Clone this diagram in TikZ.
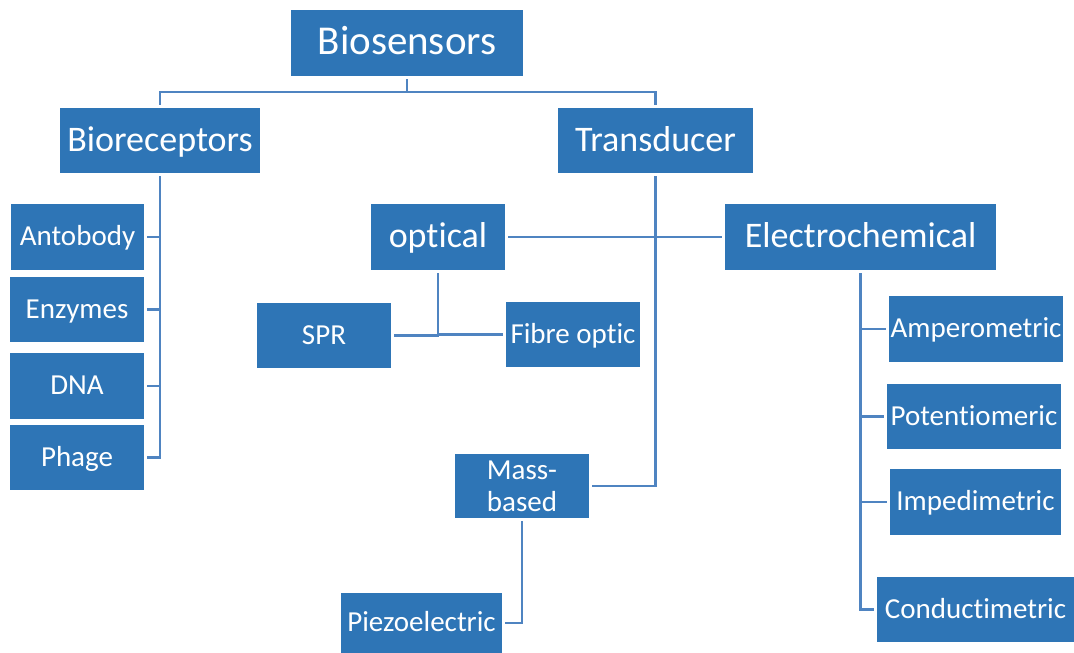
\documentclass[tikz,border=0pt]{standalone}
\usepackage{fontspec}
\setmainfont{Carlito}[RawFeature={-liga;-clig;-calt;-dlig}]
\usepackage{xcolor}
\definecolor{boxblue}{RGB}{46,117,182}
\definecolor{linkblue}{RGB}{79,132,193}
\usepackage{tikz}

\tikzset{
  box/.style={fill=boxblue, text=white, inner sep=0pt},
  bigbox/.style={box, font=\fontsize{41}{49}\selectfont, text height=30pt, text depth=7.4pt},
  midbox/.style={box, font=\fontsize{36}{43}\selectfont, text height=27pt, text depth=6pt},
  smallbox/.style={box, font=\fontsize{29}{32}\selectfont, text height=22pt, text depth=5pt},
  link/.style={draw=linkblue, line width=2.3pt, shorten <=3pt, shorten >=3pt},
}

\begin{document}
\begin{tikzpicture}[x=1pt, y=-1pt]
  \useasboundingbox (0,0) rectangle (1074,653);

  % Top level
  \node[bigbox, minimum width=232pt, minimum height=66pt] (bio) at (407,43) {Biosensors};
  \node[midbox, minimum width=200pt, minimum height=65pt] (brec) at (160,140.5) {Bioreceptors};
  \node[midbox, minimum width=195pt, minimum height=65pt] (trans) at (655.5,140.5) {Transducer};

  % Bioreceptors column
  \node[smallbox, minimum width=133pt, minimum height=66pt] (anto) at (77.5,237) {Antobody};
  \node[smallbox, minimum width=134pt, minimum height=65pt] (enz) at (77,309.5) {Enzymes};
  \node[smallbox, minimum width=134pt, minimum height=66pt] (dna) at (77,386) {DNA};
  \node[smallbox, minimum width=134pt, minimum height=65pt] (phage) at (77,457.5) {Phage};

  % Transducer branches
  \node[midbox, minimum width=134pt, minimum height=66pt] (opt) at (438,237) {optical};
  \node[midbox, minimum width=271pt, minimum height=66pt] (elec) at (860.5,237) {Electrochemical};
  \node[smallbox, minimum width=134pt, minimum height=65pt] (spr) at (324,335.5) {SPR};
  \node[smallbox, minimum width=134pt, minimum height=65pt] (fibre) at (573,334.5) {Fibre optic};
  \node[smallbox, minimum width=134pt, minimum height=64pt, align=center,
        text height={}, text depth={}] (mass) at (522,486) {Mass-\\based};
  \node[smallbox, minimum width=161pt, minimum height=60pt] (piezo) at (421.5,623) {Piezoelectric};

  % Electrochemical column
  \node[smallbox, minimum width=174pt, minimum height=66pt] (amp) at (976,329) {Amperometric};
  \node[smallbox, minimum width=174pt, minimum height=65pt] (pot) at (974,416.5) {Potentiomeric};
  \node[smallbox, minimum width=171pt, minimum height=66pt] (imp) at (975.5,502) {Impedimetric};
  \node[smallbox, minimum width=197pt, minimum height=65pt] (cond) at (975.5,609.5) {Conductimetric};

  % Connectors
  \draw[link] (bio.south) -- ++(0,16) -| (brec.north);
  \draw[link] (bio.south) -- ++(0,16) -| (trans.north);
  \foreach \n in {anto,enz,dna,phage}
    \draw[link] (brec.south) |- (\n.east);
  \draw[link] (trans.south) |- (mass.east);
  \draw[link] (opt.east) -- (elec.west);
  \draw[link] (opt.south) |- (spr.east);
  \draw[link] (opt.south) |- (fibre.west);
  \draw[link] (mass.south) |- (piezo.east);
  \foreach \n in {amp,pot,imp,cond}
    \draw[link] (elec.south) |- (\n.west);
\end{tikzpicture}
\end{document}
